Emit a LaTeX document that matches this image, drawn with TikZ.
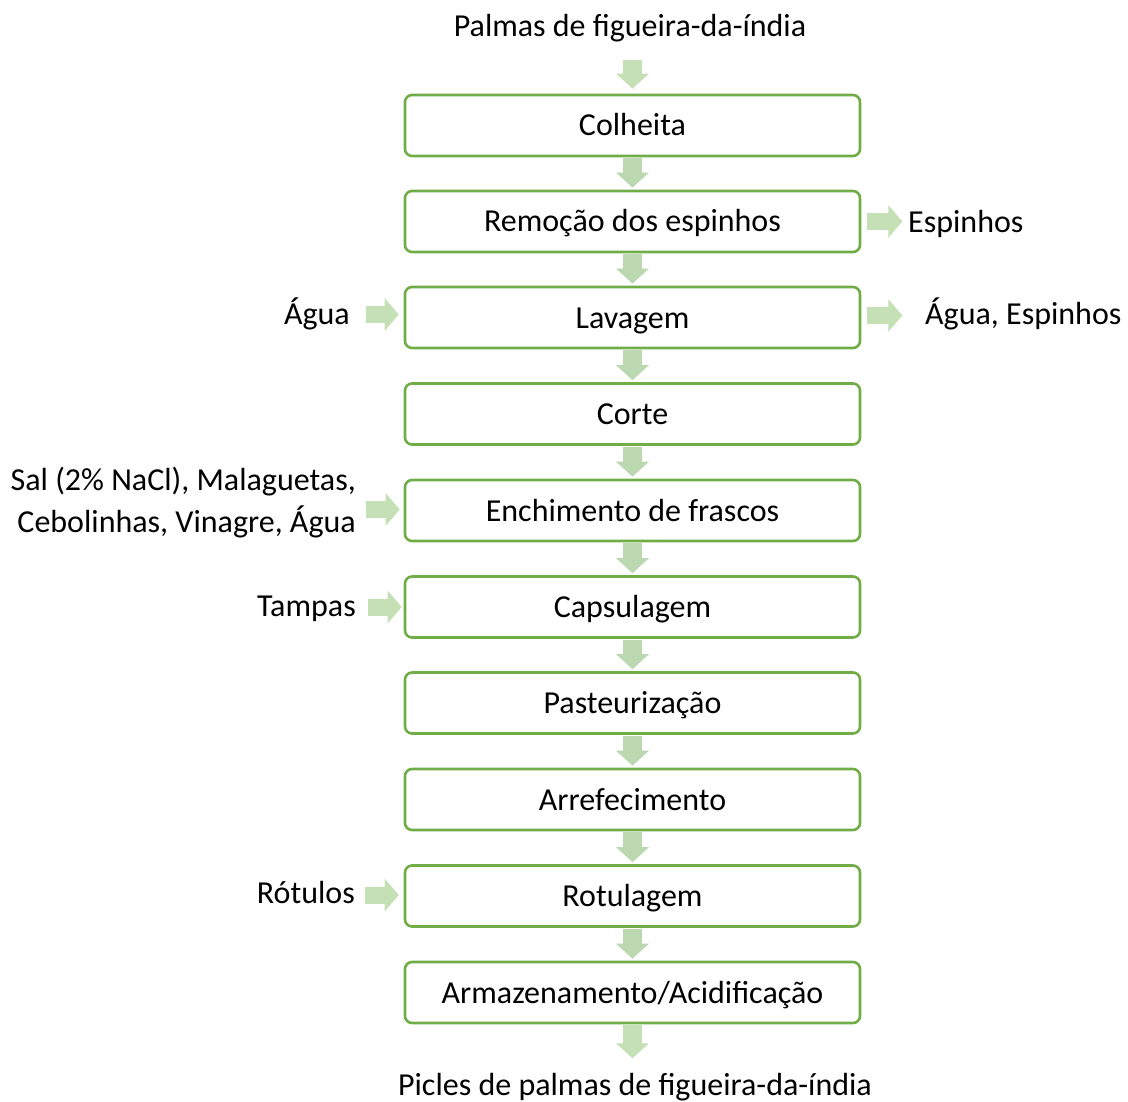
\documentclass[tikz,border=0pt]{standalone}
\usepackage{fontspec}
\setmainfont{Carlito}
\usetikzlibrary{arrows.meta}
\definecolor{boxgreen}{HTML}{70AD47}
\definecolor{arrowlight}{HTML}{C5E0B4}
\definecolor{arrowmid}{HTML}{BCD8B0}
\begin{document}
\begin{tikzpicture}[x=1pt,y=-1pt,
  stepbox/.style={draw=boxgreen,line width=2.6pt,rounded corners=7pt,minimum width=455pt,minimum height=61pt,inner sep=0pt,text height=24pt,text depth=3pt,font=\fontsize{32}{38}\selectfont},
  lbl/.style={inner sep=0pt,text height=24pt,text depth=3pt,font=\fontsize{32}{42}\selectfont},
  lbltwo/.style={inner sep=0pt,font=\fontsize{32}{42}\selectfont},
  varrow/.style={draw=arrowmid,line width=19pt,-{Triangle[length=15pt,width=32pt]},shorten <=1pt,shorten >=2pt},
  toparrow/.style={draw=arrowlight,line width=19pt,-{Triangle[length=15pt,width=32pt]}},
  sidearrow/.style={draw=arrowlight,line width=17pt,-{Triangle[length=14pt,width=32pt]}}]
\useasboundingbox (0,0) rectangle (1128,1102);
\node[stepbox] (b1) at (632.5,125.5) {Colheita};
\node[stepbox] (b2) at (632.5,221.5) {Remoção dos espinhos};
\node[stepbox] (b3) at (632.5,317.5) {Lavagem};
\node[stepbox] (b4) at (632.5,414) {Corte};
\node[stepbox] (b5) at (632.5,510.5) {Enchimento de frascos};
\node[stepbox] (b6) at (632.5,607) {Capsulagem};
\node[stepbox] (b7) at (632.5,703) {Pasteurização};
\node[stepbox] (b8) at (632.5,799.5) {Arrefecimento};
\node[stepbox] (b9) at (632.5,896) {Rotulagem};
\node[stepbox] (b10) at (632.5,992.5) {Armazenamento/Acidificação};
\node[lbl] (top) at (630,26) {Palmas de figueira-da-índia};
\node[lbl] (bot) at (635,1085) {Picles de palmas de figueira-da-índia};
\node[lbl,anchor=west] (esp) at (908,222) {Espinhos};
\node[lbl,anchor=west] (aguaesp) at (925,314) {Água, Espinhos};
\node[lbl,anchor=east] (agua) at (350,314) {Água};
\node[lbltwo,anchor=east,align=right] (ingr) at (356,503) {Sal (2\% NaCl), Malaguetas,\\Cebolinhas, Vinagre, Água};
\node[lbl,anchor=east] (tampas) at (356,606) {Tampas};
\node[lbl,anchor=east] (rot) at (355,893) {Rótulos};
% vertical arrows
\draw[toparrow] ([yshift=34pt]b1.north) -- ([yshift=5pt]b1.north);
\foreach \a/\b in {b1/b2,b2/b3,b3/b4,b4/b5,b5/b6,b6/b7,b7/b8,b8/b9,b9/b10}
  \draw[varrow] (\a.south) -- (\b.north);
\draw[toparrow] ([yshift=-1pt]b10.south) -- ([yshift=-34pt]b10.south);
% side arrows
\draw[sidearrow] ([xshift=6pt]b2.east) -- ([xshift=41pt]b2.east);
\draw[sidearrow] ([xshift=6pt,yshift=2pt]b3.east) -- ([xshift=41pt,yshift=2pt]b3.east);
\draw[sidearrow] ([xshift=-38pt,yshift=3pt]b3.west) -- ([xshift=-5pt,yshift=3pt]b3.west);
\draw[sidearrow] ([xshift=-38pt,yshift=1pt]b5.west) -- ([xshift=-4pt,yshift=1pt]b5.west);
\draw[sidearrow] ([xshift=-36pt]b6.west) -- ([xshift=-2pt]b6.west);
\draw[sidearrow] ([xshift=-39pt,yshift=1pt]b9.west) -- ([xshift=-5pt,yshift=1pt]b9.west);
\end{tikzpicture}
\end{document}
